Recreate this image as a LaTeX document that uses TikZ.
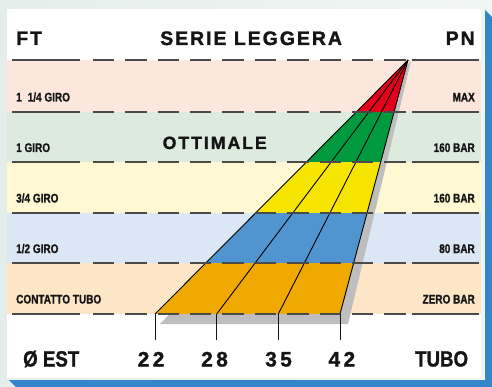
\documentclass[tikz,border=0pt]{standalone}
\usepackage{fontspec}
\setmainfont{Liberation Sans}
\newfontfamily\titlefont[LetterSpace=10,FakeBold=1.5]{Liberation Sans Bold}
\newfontfamily\ottfont[LetterSpace=11,FakeBold=1.5]{Liberation Sans Bold}
\newfontfamily\condfont[FakeStretch=0.8,FakeBold=1]{Liberation Sans Bold}
\newfontfamily\bigcond[FakeStretch=0.85,FakeBold=1.2]{Liberation Sans Bold}
\newfontfamily\numfont[LetterSpace=16,FakeBold=1.2]{Liberation Sans Bold}
\definecolor{bgL}{HTML}{E3EEEA}
\definecolor{bgR}{HTML}{F1F6F4}
\definecolor{shadowblue}{HTML}{3585CA}
\definecolor{bandA}{HTML}{FDE7DC}
\definecolor{bandB}{HTML}{DDEBDF}
\definecolor{bandC}{HTML}{FEF8D3}
\definecolor{bandD}{HTML}{DCE7F5}
\definecolor{bandE}{HTML}{FDE6C6}
\definecolor{fanA}{HTML}{E2001A}
\definecolor{fanB}{HTML}{009A3E}
\definecolor{fanC}{HTML}{F6E500}
\definecolor{fanD}{HTML}{5095D0}
\definecolor{fanE}{HTML}{F0A900}
\definecolor{shadowgray}{HTML}{BEBEBE}
\definecolor{sepline}{HTML}{4A4A4A}
\definecolor{ink}{HTML}{151515}
\begin{document}
\begin{tikzpicture}[x=1pt,y=-1pt,
  lbl/.style={font=\condfont\fontsize{12.5}{14}\selectfont, inner sep=0, text=ink},
  hdr/.style={font=\titlefont\fontsize{19.5}{22}\selectfont, inner sep=0, text=ink},
  big/.style={font=\bigcond\fontsize{22}{24}\selectfont, inner sep=0, text=ink},
  num/.style={font=\numfont\fontsize{21}{24}\selectfont, inner sep=0, text=ink},
  solidsep/.style={draw=sepline, line width=1.3pt},
  dashsep/.style={draw=sepline, line width=1.3pt, dash pattern=on 21.5pt off 10.9pt},
  fanline/.style={draw=black, line width=0.9pt},
  tickline/.style={draw=ink, line width=1pt}]
\useasboundingbox (0,0) rectangle (492,387);
% background
\fill[left color=bgL, right color=bgR] (0,0) rectangle (492,387);
% blue shadow of the panel
\fill[shadowblue] (485,10) -- (492,17) -- (492,387) -- (16,387) -- (9,380) -- (485,380) -- cycle;
% white panel
\fill[white] (7,9) rectangle (481,378);
% bands
\fill[bandA] (7,60) rectangle (481,112);
\fill[bandB] (7,112) rectangle (481,162);
\fill[bandC] (7,162) rectangle (481,213);
\fill[bandD] (7,213) rectangle (481,263);
\fill[bandE] (7,263) rectangle (481,314);
% fan geometry
\coordinate (apex) at (408,60);
\coordinate (b22) at (155,314);
\coordinate (b28) at (216.7,314);
\coordinate (b35) at (278.3,314);
\coordinate (b42) at (340,314);
\coordinate (t22) at (155,340);
\coordinate (t28) at (216.7,340);
\coordinate (t35) at (278.3,340);
\coordinate (t42) at (340,340);
% fan shadow
\fill[shadowgray] (411,61) -- (160,324) -- (348,324) -- cycle;
% fan fill
\begin{scope}
  \clip (apex) -- (b22) -- (b42) -- cycle;
  \fill[fanA] (0,55) rectangle (492,112);
  \fill[fanB] (0,112) rectangle (492,162);
  \fill[fanC] (0,162) rectangle (492,213);
  \fill[fanD] (0,213) rectangle (492,263);
  \fill[fanE] (0,263) rectangle (492,314);
\end{scope}
\draw[fanline] (apex) -- (b22);
\draw[fanline] (apex) -- (b28);
\draw[fanline] (apex) -- (b35);
\draw[fanline] (apex) -- (b42);
% separators
\foreach \yy in {60,112,162,213,263,314}{
  \draw[solidsep] (12,\yy) -- (80,\yy);
  \draw[dashsep] (92.7,\yy) -- (411,\yy);
  \draw[solidsep] (411.7,\yy) -- (479,\yy);
}
% ticks
\draw[tickline] (b22) -- (t22);
\draw[tickline] (b28) -- (t28);
\draw[tickline] (b35) -- (t35);
\draw[tickline] (b42) -- (t42);
% header
\node[hdr, anchor=base west] (ft) at (16,45) {FT};
\node[hdr, anchor=base west] (serie) at (160,45) {SERIE LEGGERA};
\node[hdr, anchor=base west] (pn) at (445.5,45) {PN};
\node[inner sep=0, text=ink, anchor=base west, font=\ottfont\fontsize{17.7}{20}\selectfont] (ott) at (162.5,149) {OTTIMALE};
% left labels
\node[lbl, anchor=base west] (l1) at (16,101.5) {1\hspace{6pt}1/4 GIRO};
\node[lbl, anchor=base west] (l2) at (16,152) {1 GIRO};
\node[lbl, anchor=base west] (l3) at (16,202.5) {3/4 GIRO};
\node[lbl, anchor=base west] (l4) at (16,253) {1/2 GIRO};
\node[lbl, anchor=base west] (l5) at (16,303.5) {CONTATTO TUBO};
% right labels
\node[lbl, anchor=base east] (r1) at (475,101.5) {MAX};
\node[lbl, anchor=base east] (r2) at (475,152) {160 BAR};
\node[lbl, anchor=base east] (r3) at (475,202.5) {160 BAR};
\node[lbl, anchor=base east] (r4) at (475,253) {80 BAR};
\node[lbl, anchor=base east] (r5) at (475,303.5) {ZERO BAR};
% bottom row
\node[big, anchor=base west] (est) at (23,366.5) {Ø EST};
\node[num, anchor=base west] (n22) at (137.5,366.5) {22};
\node[num, anchor=base west] (n28) at (201,366.5) {28};
\node[num, anchor=base west] (n35) at (265,366.5) {35};
\node[num, anchor=base west] (n42) at (328.3,366.5) {42};
\node[big, anchor=base east] (tubo) at (468.3,366.5) {TUBO};
\end{tikzpicture}
\end{document}
